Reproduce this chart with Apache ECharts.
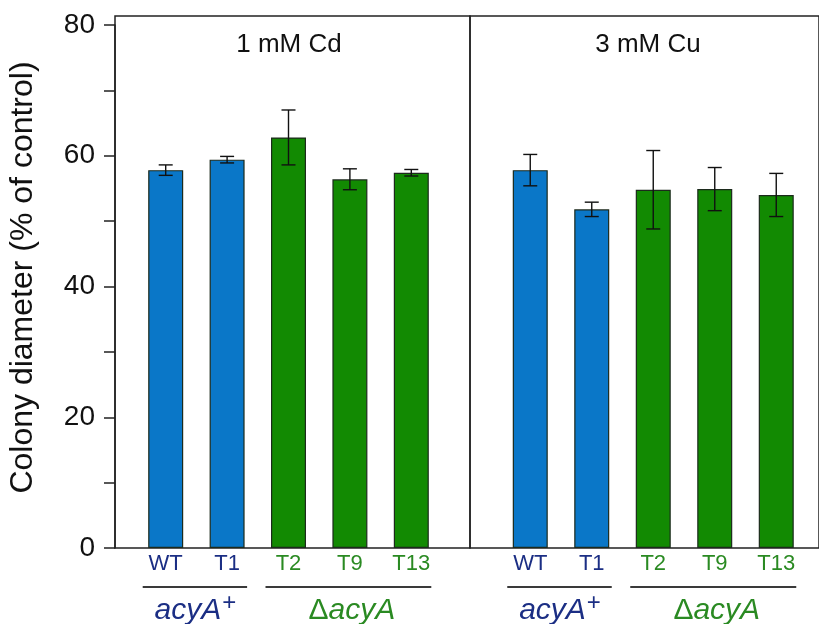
<!DOCTYPE html>
<html>
<head>
<meta charset="utf-8">
<script src="https://cdn.jsdelivr.net/npm/echarts@6/dist/echarts.min.js"></script>
<style>html,body{margin:0;padding:0;background:#fff;}#c{width:819px;height:624px;}</style>
</head>
<body>
<div id="c"></div>
<script>
// ---- data ----
const panelTitles = ['1 mM Cd', '3 mM Cu'];
const strains = ['WT', 'T1', 'T2', 'T9', 'T13'];
const cdMean = [57.8, 59.4, 62.8, 56.4, 57.4];
const cdErr  = [0.8, 0.5, 4.2, 1.6, 0.5];
const cuMean = [57.8, 51.8, 54.8, 54.9, 54.0];
const cuErr  = [2.4, 1.1, 6.0, 3.3, 3.3];
const yTickLabels = [0, 20, 40, 60, 80];
const groupPrefix = ['', '\u0394'];
const groupNames = ['acyA', 'acyA'];
const groupSup = ['+', ''];
const groupFrom = [0, 2];
const groupTo = [1, 4];

// ---- style ----
const FONT = 'Liberation Sans, Arial, sans-serif';
const BLUE = '#0a77c8', GREEN = '#128a02';
const NAVY = '#1b2e84', LGREEN = '#2a8a22';
const INK = '#222';
const isBlue = i => i < 2;

const chart = echarts.init(document.getElementById('c'), null, {renderer: 'canvas'});

function barSeries(gi, mean) {
  return {
    type: 'bar', xAxisIndex: gi, yAxisIndex: gi, barWidth: 35,
    data: mean,
    itemStyle: {
      color: p => isBlue(p.dataIndex) ? BLUE : GREEN,
      borderColor: '#1c2a1c', borderWidth: 1.2
    },
    silent: true, animation: false
  };
}
function errSeries(gi, mean, err) {
  return {
    type: 'custom', xAxisIndex: gi, yAxisIndex: gi, z: 5,
    data: mean.map((m, i) => [i, m, err[i]]),
    renderItem: (params, api) => {
      const i = api.value(0), m = api.value(1), e = api.value(2);
      const hi = api.coord([i, m + e]), lo = api.coord([i, m - e]);
      const hw = 7;
      const st = {stroke: '#111', lineWidth: 1.4};
      return {type: 'group', children: [
        {type: 'line', shape: {x1: hi[0], y1: hi[1], x2: lo[0], y2: lo[1]}, style: st},
        {type: 'line', shape: {x1: hi[0]-hw, y1: hi[1], x2: hi[0]+hw, y2: hi[1]}, style: st},
        {type: 'line', shape: {x1: lo[0]-hw, y1: lo[1], x2: lo[0]+hw, y2: lo[1]}, style: st}
      ]};
    },
    animation: false, silent: true
  };
}
const catAxis = gi => ({
  type: 'category', gridIndex: gi, data: strains,
  axisLine: {show: false}, axisTick: {show: false},
  axisLabel: {
    interval: 0, margin: 5, fontFamily: FONT, fontSize: 22,
    color: (v, i) => isBlue(i) ? NAVY : LGREEN
  }
});

const option = {
  animation: false,
  backgroundColor: '#fff',
  title: [
    {text: panelTitles[0], left: 284, top: 27, textAlign: 'center',
     textStyle: {fontFamily: FONT, fontSize: 26, fontWeight: 'normal', color: '#111'}},
    {text: panelTitles[1], left: 643, top: 27, textAlign: 'center',
     textStyle: {fontFamily: FONT, fontSize: 26, fontWeight: 'normal', color: '#111'}}
  ],
  grid: [
    {left: 135, width: 307, top: 25, bottom: 76},
    {left: 499.5, width: 307.5, top: 25, bottom: 76},
    {left: 115, width: 355, top: 16, bottom: 76, show: true, borderColor: INK, borderWidth: 1.5, backgroundColor: 'transparent'},
    {left: 470, right: -10, top: 16, bottom: 76, show: true, borderColor: INK, borderWidth: 1.5, backgroundColor: 'transparent'}
  ],
  xAxis: [
    catAxis(0), catAxis(1),
    {type: 'value', gridIndex: 2, show: false},
    {type: 'value', gridIndex: 3, show: false}
  ],
  yAxis: [
    {type: 'value', gridIndex: 0, min: 0, max: 80, interval: 10, offset: 20,
     name: 'Colony diameter (% of control)', nameLocation: 'middle', nameGap: 76,
     nameTextStyle: {fontFamily: FONT, fontSize: 32, color: '#111', padding: [0, 0, 0, 18]},
     axisLine: {show: true, lineStyle: {color: INK, width: 1.5}},
     axisTick: {show: true, inside: false, length: 11, lineStyle: {color: INK, width: 1.5}},
     axisLabel: {margin: 20, fontFamily: FONT, fontSize: 28, color: '#111',
       formatter: v => yTickLabels.indexOf(v) >= 0 ? String(v) : ''},
     splitLine: {show: false}},
    {type: 'value', gridIndex: 1, min: 0, max: 80, show: false},
    {type: 'value', gridIndex: 2, show: false},
    {type: 'value', gridIndex: 3, show: false}
  ],
  series: [
    barSeries(0, cdMean), errSeries(0, cdMean, cdErr),
    barSeries(1, cuMean), errSeries(1, cuMean, cuErr)
  ]
};
chart.setOption(option);

// text measuring helper
const mctx = document.createElement('canvas').getContext('2d');
function textW(t, font) { mctx.font = font; return mctx.measureText(t).width; }

// group underlines and labels, placed from the category axes
const graphics = [];
[0, 1].forEach(ax => {
  groupNames.forEach((g, k) => {
    const x1 = chart.convertToPixel({xAxisIndex: ax}, strains[groupFrom[k]]);
    const x2 = chart.convertToPixel({xAxisIndex: ax}, strains[groupTo[k]]);
    const col = k === 0 ? NAVY : LGREEN;
    graphics.push({type: 'line', shape: {x1: x1 - 23, y1: 587, x2: x2 + 20, y2: 587},
      style: {stroke: '#3a3a3a', lineWidth: 2}, silent: true});
    const wPre = groupPrefix[k] ? textW(groupPrefix[k], '30px ' + FONT) : 0;
    const wMain = textW(g, 'italic 30px ' + FONT);
    const wSup = groupSup[k] ? textW(groupSup[k], '24px ' + FONT) + 1 : 0;
    const total = wPre + wMain + wSup;
    let x = (x1 + x2) / 2 - total / 2 + (k === 0 ? -1 : 2);
    const mid = 611;
    if (groupPrefix[k]) {
      graphics.push({type: 'text', x: x, y: mid, silent: true,
        style: {text: groupPrefix[k], font: '30px ' + FONT, fill: col, align: 'left', verticalAlign: 'middle'}});
      x += wPre;
    }
    graphics.push({type: 'text', x: x, y: mid, silent: true,
      style: {text: g, font: 'italic 30px ' + FONT, fill: col, align: 'left', verticalAlign: 'middle'}});
    x += wMain;
    if (groupSup[k]) {
      graphics.push({type: 'text', x: x + 1, y: mid - 8, silent: true,
        style: {text: groupSup[k], font: '24px ' + FONT, fill: col, align: 'left', verticalAlign: 'middle'}});
    }
  });
});
chart.setOption({graphic: graphics});
</script>
</body>
</html>
